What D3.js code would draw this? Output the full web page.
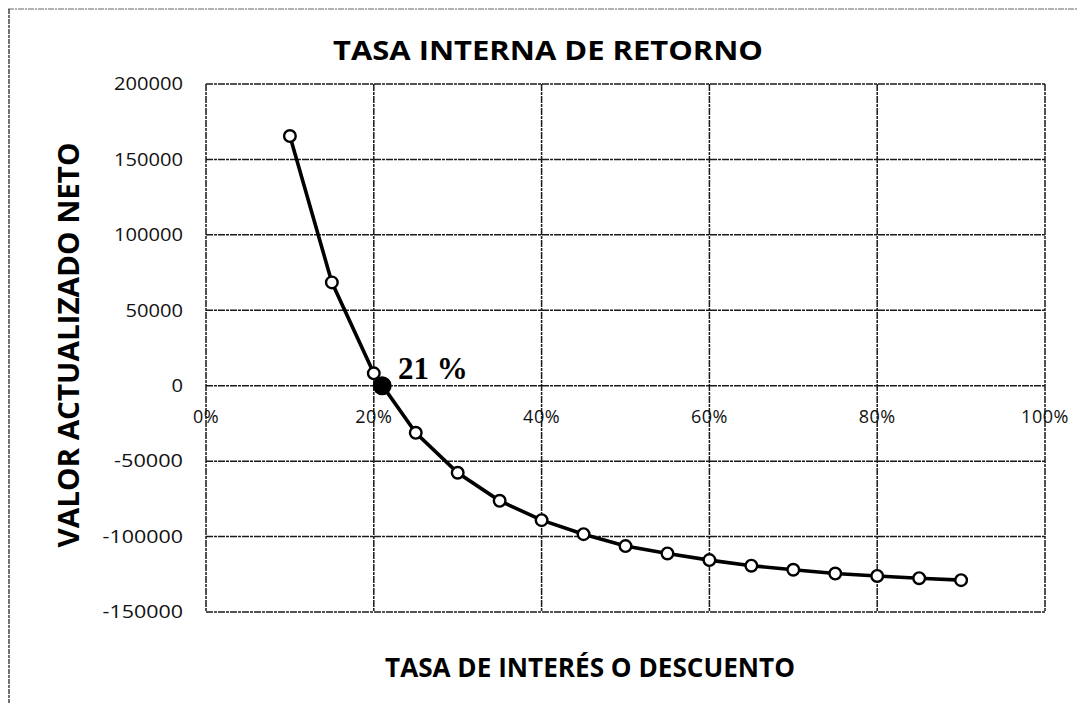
<!DOCTYPE html>
<html>
<head>
<meta charset="utf-8">
<script src="https://cdn.jsdelivr.net/npm/d3@7"></script>
<style>
  body { margin: 0; background: #fff; }
  text { font-family: "Open Sans", "DejaVu Sans", sans-serif; }
</style>
</head>
<body>
<svg id="chart" width="1085" height="706"></svg>
<script>
// tasas (fraccion) y VAN
var rates = [0.10, 0.15, 0.20, 0.25, 0.30, 0.35, 0.40, 0.45, 0.50, 0.55, 0.60, 0.65, 0.70, 0.75, 0.80, 0.85, 0.90];
var npv = [165500, 68500, 8200, -31200, -57700, -76300, -89100, -98400, -106300, -111200, -115600, -119300, -122000, -124500, -126100, -127600, -128900];
var irr = 0.21;
var irrLabel = "21 %";
var yTicks = [200000, 150000, 100000, 50000, 0, -50000, -100000, -150000];
var xTicks = [0, 0.2, 0.4, 0.6, 0.8, 1.0];

var svg = d3.select("#chart");

var plot = { left: 206, right: 1045, top: 84, bottom: 612 };

var x = d3.scaleLinear().domain([0, 1]).range([plot.left, plot.right]);
var y = d3.scaleLinear().domain([-150000, 200000]).range([plot.bottom, plot.top]);

// marco exterior (escaneado)
svg.append("line").attr("x1", 8).attr("y1", 9).attr("x2", 1078).attr("y2", 9)
    .attr("stroke", "#666").attr("stroke-width", 1).attr("stroke-dasharray", "6,1,2,1");
svg.append("line").attr("x1", 9).attr("y1", 9).attr("x2", 9).attr("y2", 703)
    .attr("stroke", "#444").attr("stroke-width", 1.5).attr("stroke-dasharray", "5,1,3,1");

// grid horizontal
svg.append("g")
    .selectAll("line")
    .data(yTicks)
    .enter()
    .append("line")
        .attr("x1", plot.left)
        .attr("x2", plot.right)
        .attr("y1", function(d){ return y(d) })
        .attr("y2", function(d){ return y(d) })
        .attr("stroke", "#1a1a1a")
        .attr("stroke-width", 1.5)
        .attr("stroke-dasharray", "7,1,3,1");

// grid vertical
svg.append("g")
    .selectAll("line")
    .data(xTicks)
    .enter()
    .append("line")
        .attr("x1", function(d){ return x(d) })
        .attr("x2", function(d){ return x(d) })
        .attr("y1", plot.top)
        .attr("y2", plot.bottom)
        .attr("stroke", "#1a1a1a")
        .attr("stroke-width", 1.5)
        .attr("stroke-dasharray", "7,1,3,1");

// etiquetas eje y
svg.append("g")
    .selectAll("text")
    .data(yTicks)
    .enter()
    .append("text")
        .attr("x", 183)
        .attr("y", function(d){ return y(d) })
        .attr("dy", "0.35em")
        .attr("text-anchor", "end")
        .attr("font-size", "18px")
        .attr("textLength", function(d){ return String(d).length * 11.5 })
        .attr("lengthAdjust", "spacingAndGlyphs")
        .attr("fill", "#111")
        .text(function(d){ return d });

// etiquetas eje x (bajo la linea del cero)
svg.append("g")
    .selectAll("text")
    .data(xTicks)
    .enter()
    .append("text")
        .attr("x", function(d){ return x(d) })
        .attr("y", y(0) + 37)
        .attr("text-anchor", "middle")
        .attr("font-size", "18px")
        .attr("letter-spacing", "0.5px")
        .attr("fill", "#111")
        .text(function(d){ return d3.format(".0%")(d) });

// curva
var pts = rates.map(function(r, i){ return [r, npv[i]] });
var line = d3.line()
    .x(function(d){ return x(d[0]) })
    .y(function(d){ return y(d[1]) });

svg.append("path")
    .datum(pts)
    .attr("d", line)
    .attr("fill", "none")
    .attr("stroke", "#000")
    .attr("stroke-width", 3.6);

svg.append("g")
    .selectAll("circle")
    .data(pts)
    .enter()
    .append("circle")
        .attr("cx", function(d){ return x(d[0]) })
        .attr("cy", function(d){ return y(d[1]) })
        .attr("r", 5.8)
        .attr("fill", "#fff")
        .attr("stroke", "#000")
        .attr("stroke-width", 2.4);

// punto TIR
svg.append("circle")
    .attr("cx", x(irr))
    .attr("cy", y(0))
    .attr("r", 9.5)
    .attr("fill", "#000");

svg.append("text")
    .attr("x", 398)
    .attr("y", 379)
    .style("font-family", "'Liberation Serif', 'Times New Roman', serif")
    .style("font-weight", "bold")
    .style("font-size", "31px")
    .attr("fill", "#000")
    .text(irrLabel);

// titulos
svg.append("text")
    .attr("x", 548)
    .attr("y", 60)
    .attr("text-anchor", "middle")
    .attr("font-weight", "bold")
    .attr("font-size", "26px")
    .attr("textLength", 430)
    .attr("lengthAdjust", "spacingAndGlyphs")
    .attr("fill", "#000")
    .text("TASA INTERNA DE RETORNO");

svg.append("text")
    .attr("x", 590)
    .attr("y", 677)
    .attr("text-anchor", "middle")
    .attr("font-weight", "bold")
    .attr("font-size", "26px")
    .attr("textLength", 410)
    .attr("lengthAdjust", "spacingAndGlyphs")
    .attr("fill", "#000")
    .text("TASA DE INTERÉS O DESCUENTO");

svg.append("text")
    .attr("transform", "translate(79,345) rotate(-90)")
    .attr("text-anchor", "middle")
    .attr("font-weight", "bold")
    .attr("font-size", "29px")
    .attr("textLength", 405)
    .attr("lengthAdjust", "spacingAndGlyphs")
    .attr("fill", "#000")
    .text("VALOR ACTUALIZADO NETO");
</script>
</body>
</html>
